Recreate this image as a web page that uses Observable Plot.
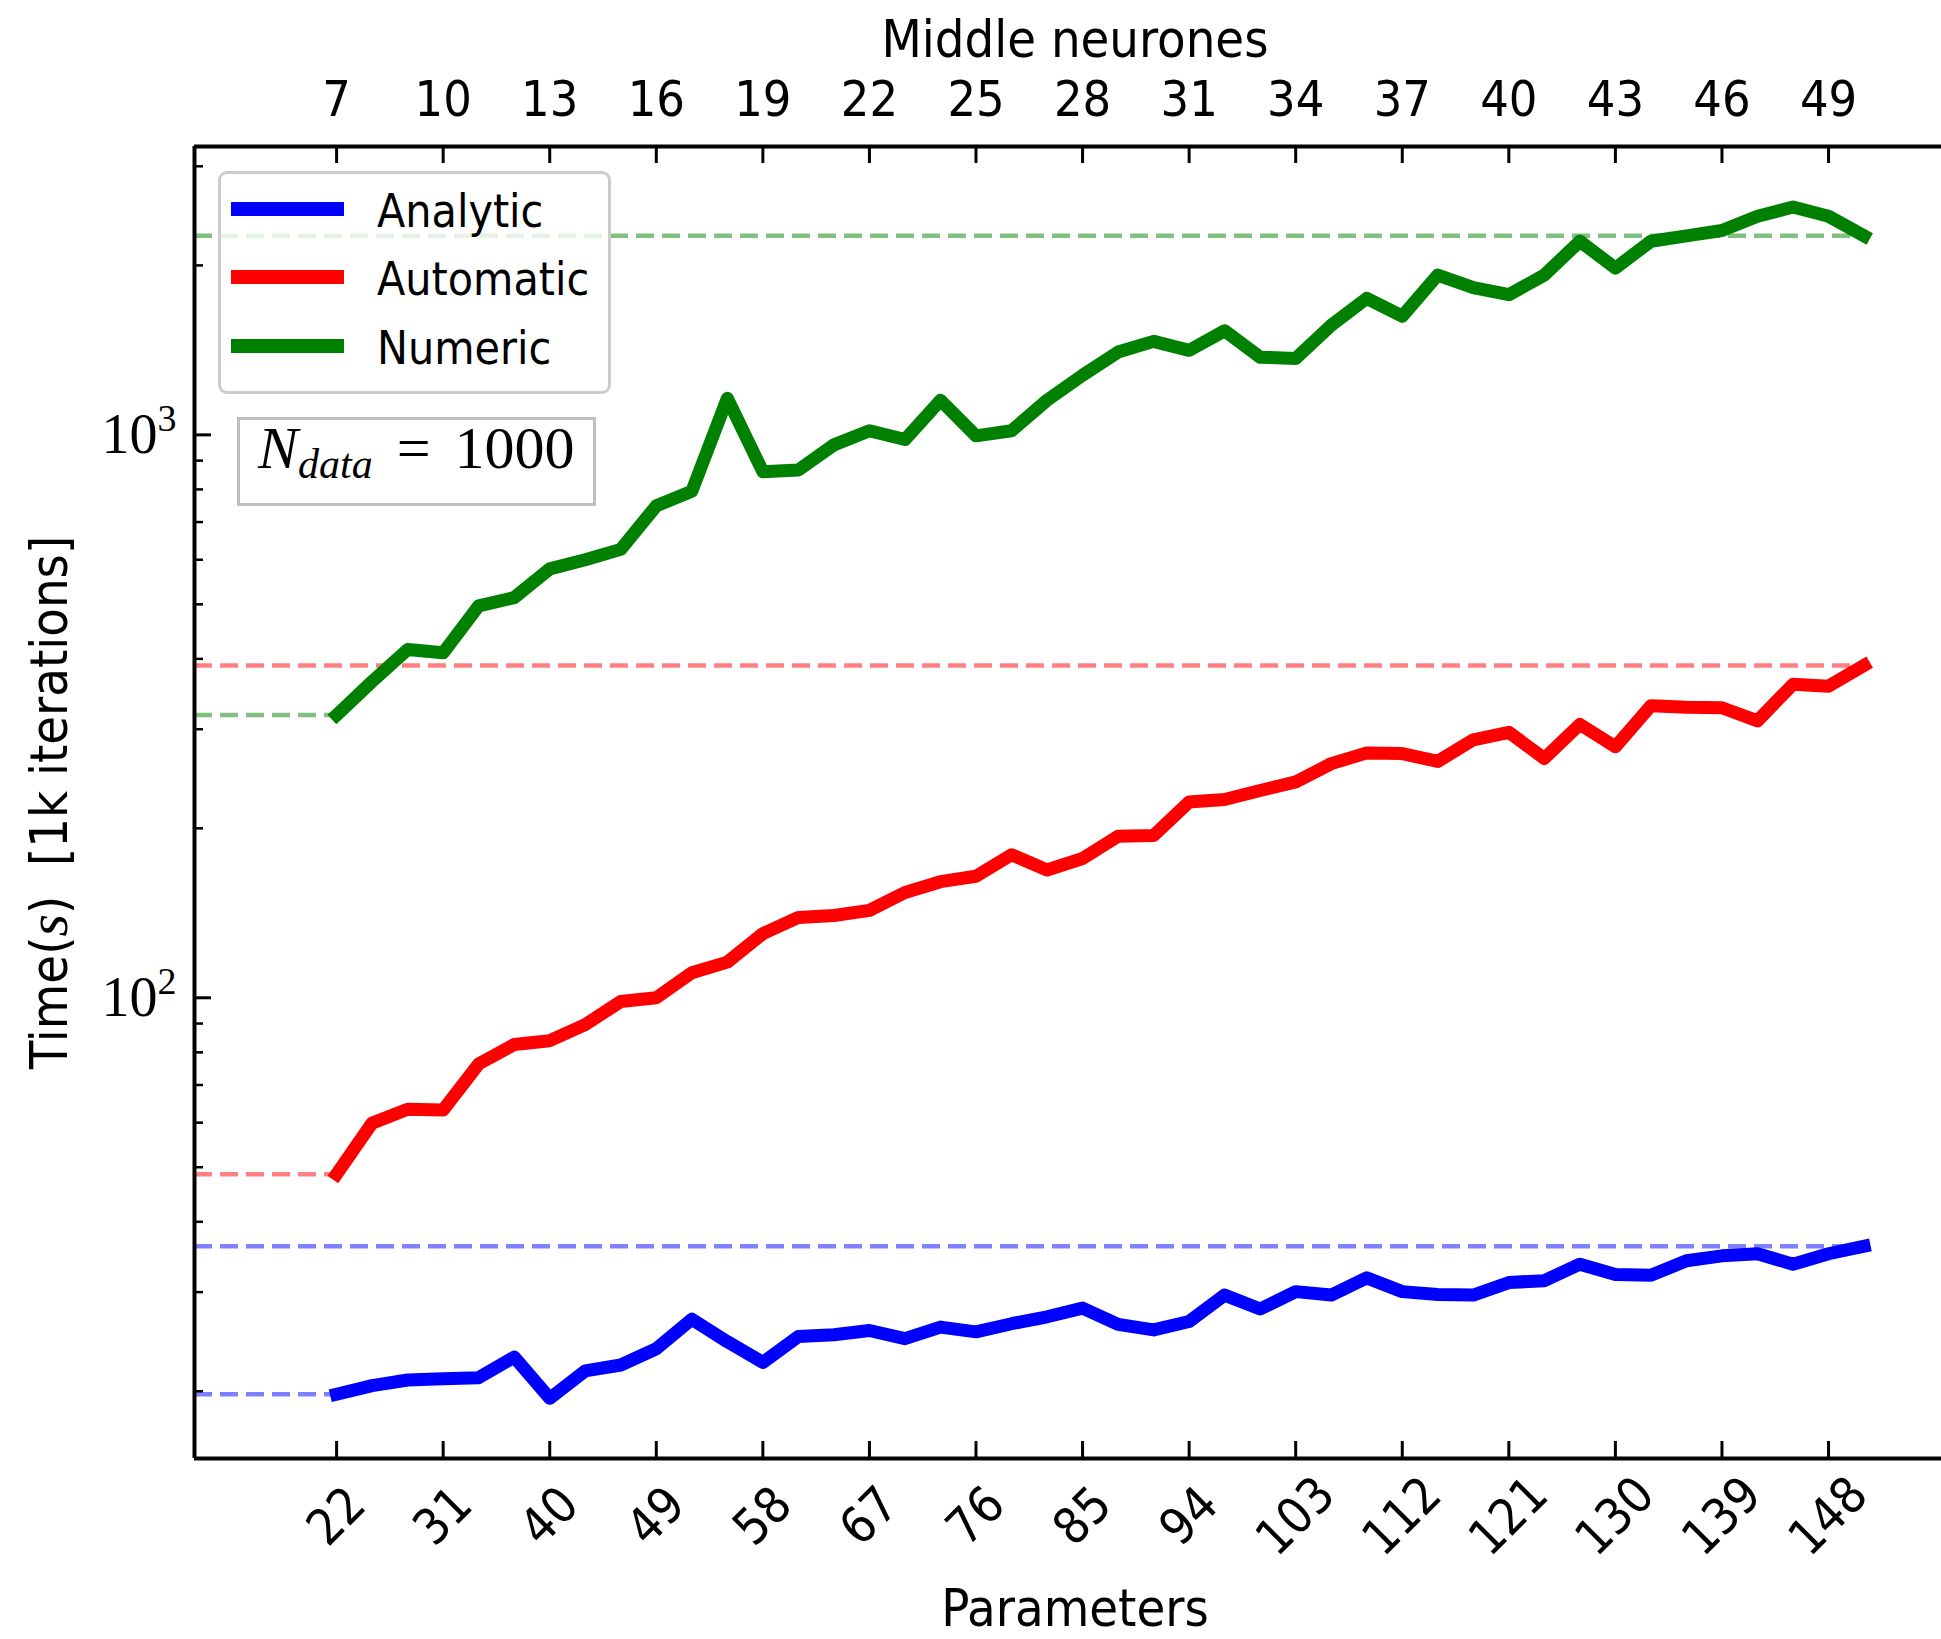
<!DOCTYPE html>
<html>
<head>
<meta charset="utf-8">
<script src="https://cdn.jsdelivr.net/npm/d3@7"></script>
<script src="https://cdn.jsdelivr.net/npm/@observablehq/plot@0.6"></script>
<style>
  html, body { margin: 0; padding: 0; background: white; }
  #wrap { position: relative; width: 1941px; height: 1639px; overflow: hidden; }
  .box { position: absolute; box-sizing: border-box; }
</style>
</head>
<body>
<div id="wrap"></div>
<script>
// ---------------- data ----------------
const neurons = [7,8,9,10,11,12,13,14,15,16,17,18,19,20,21,22,23,24,25,26,27,28,29,30,31,32,33,34,35,36,37,38,39,40,41,42,43,44,45,46,47,48,49,50];
const analytic = [19.76,20.47,20.94,21.05,21.14,23.0,19.43,21.74,22.27,23.8,26.85,24.5,22.5,25.03,25.2,25.64,24.8,26.0,25.5,26.36,27.12,28.1,26.3,25.7,26.6,29.64,28.0,30.06,29.64,31.8,30.06,29.7,29.64,31.2,31.44,33.63,32.24,32.15,34.1,34.8,35.1,33.63,35.1,36.2];
const automatic = [48.6,59.9,63.4,63.2,76.3,82.6,83.9,89.6,98.5,100,110.8,115.7,130,138.9,140,143,153.8,160.8,164.4,179.5,168.7,176.8,193.6,194.2,222.8,225,233.5,241.8,260.6,272.3,271.5,263,287.3,296.2,266.2,306,279.1,330.1,328.2,327.5,310.4,360.5,357.8,389.4];
const numeric = [317.8,364.7,415.6,410,497,514,578,600,626,748,794,1161,860,866,960,1017,981,1152,996,1017,1152,1276,1403,1466,1413,1531,1374,1367,1566,1748,1625,1923,1826,1774,1923,2208,1978,2208,2257,2307,2445,2539,2445,2257];
const seriesNames = ["Analytic", "Automatic", "Numeric"];
const seriesColors = ["#0000ff", "#ff0000", "#008000"];
const dashColors = ["#8080ff", "#ff8080", "#80bf80"];
const topTicks = [7,10,13,16,19,22,25,28,31,34,37,40,43,46,49];
const bottomTicks = [22,31,40,49,58,67,76,85,94,103,112,121,130,139,148];
const yMajor = [100, 1000];
const yMajorExp = ["2", "3"];
const yMinor = [20,30,40,50,60,70,80,90,200,300,400,500,600,700,800,900,2000,3000];
const xDomain = [3, 52.18];
const yDomain = [15.19, 3253];
const nData = 1000;

// ---------------- fonts ----------------
function hasFont(f) {
  const c = document.createElement("canvas").getContext("2d");
  const s = "AnalyticMiddle neurones 0123456789";
  c.font = "40px monospace";
  const a = c.measureText(s).width;
  c.font = `40px "${f}", monospace`;
  const b = c.measureText(s).width;
  return Math.abs(a - b) > 0.5;
}
let SANS, k;
if (hasFont("DejaVu Sans Condensed")) { SANS = '"DejaVu Sans Condensed", "DejaVu Sans", sans-serif'; k = 1; }
else { SANS = '"DejaVu Sans", sans-serif'; k = 0.9; }
const SERIF = '"Liberation Serif", "DejaVu Serif", serif';

// ---------------- layout ----------------
const W = 1941, H = 1639, mL = 194, mT = 146, mB = 181, mR = 0;
const plotW = W - mL - mR, plotH = H - mT - mB;

const series = [analytic, automatic, numeric];
const table = neurons.map((n, i) => ({n, analytic: analytic[i], automatic: automatic[i], numeric: numeric[i]}));
const keys = ["analytic", "automatic", "numeric"];

const dashMarks = [];
series.forEach((s, j) => {
  dashMarks.push(Plot.ruleY([s[0]], {y: d => d, x1: xDomain[0], x2: neurons[0], stroke: dashColors[j], strokeWidth: 4.5, strokeDasharray: "18,8"}));
  dashMarks.push(Plot.ruleY([s[s.length - 1]], {y: d => d, x1: xDomain[0], x2: neurons[neurons.length - 1], stroke: dashColors[j], strokeWidth: 4.5, strokeDasharray: "18,8"}));
});

const lineMarks = keys.map((key, j) => Plot.line(table, {
  x: "n", y: key, stroke: seriesColors[j], strokeWidth: 13,
  strokeLinejoin: "round", strokeLinecap: "square"
}));

const chart = Plot.plot({
  width: W, height: H,
  marginLeft: mL, marginTop: mT, marginBottom: mB, marginRight: mR,
  x: {domain: xDomain, axis: null},
  y: {type: "log", domain: yDomain, axis: null},
  style: {background: "white", overflow: "visible", fontFamily: SANS, color: "black"},
  marks: [
    ...dashMarks,
    ...lineMarks,
    // spines
    Plot.ruleX([xDomain[0]], {x: d => d, stroke: "black", strokeWidth: 4}),
    Plot.ruleY([yDomain[0]], {y: d => d, stroke: "black", strokeWidth: 4}),
    Plot.ruleY([yDomain[1]], {y: d => d, stroke: "black", strokeWidth: 4}),
    // inward ticks
    Plot.tickX(topTicks, {x: d => d, insetBottom: plotH - 17, stroke: "black", strokeWidth: 3}),
    Plot.tickX(bottomTicks, {x: p => (p - 1) / 3, insetTop: plotH - 17, stroke: "black", strokeWidth: 3}),
    Plot.tickY(yMajor, {y: d => d, insetRight: plotW - 17, stroke: "black", strokeWidth: 3}),
    Plot.tickY(yMinor, {y: d => d, insetRight: plotW - 9, stroke: "black", strokeWidth: 2.5}),
    // tick labels
    Plot.text(topTicks, {x: d => d, text: d => String(d), frameAnchor: "top", dy: -47, textAnchor: "middle", lineAnchor: "middle", fontSize: 50 * k, fill: "black"}),
    Plot.text(bottomTicks, {x: p => (p - 1) / 3, text: d => String(d), frameAnchor: "bottom", dy: 58, rotate: -45, textAnchor: "middle", lineAnchor: "middle", fontSize: 50 * k, fill: "black"}),
    Plot.text(yMajor, {y: d => d, text: (d, i) => "10" + "^" + yMajorExp[i], frameAnchor: "left", dx: -18, textAnchor: "end", lineAnchor: "middle", fontSize: 56, fontFamily: SERIF, fill: "black"}),
    // axis labels
    Plot.text(["Middle neurones"], {text: d => d, frameAnchor: "top", dy: -106, dx: 7, textAnchor: "middle", lineAnchor: "middle", fontSize: 52 * k, fill: "black"}),
    Plot.text(["Parameters"], {text: d => d, frameAnchor: "bottom", dy: 151, dx: 7, textAnchor: "middle", lineAnchor: "middle", fontSize: 52 * k, fill: "black"}),
    Plot.text(["Time(s)  [1k iterations]"], {text: d => d, frameAnchor: "left", dx: -144, rotate: -90, textAnchor: "middle", lineAnchor: "middle", fontSize: 52 * k, fill: "black"})
  ]
});

// rich text: italic math "s" in the y label, superscript exponents on y ticks
d3.select(chart).selectAll("text").each(function() {
  const t = d3.select(this);
  const s = this.textContent;
  if (s.indexOf("Time(") === 0) {
    t.text(null);
    t.append("tspan").text("Time(");
    t.append("tspan").attr("font-family", SERIF).attr("font-style", "italic").attr("font-size", 58 * k).text("s");
    t.append("tspan").text(")  [1k iterations]");
  } else if (/^10\^\d$/.test(s)) {
    const e = s.slice(3);
    t.text(null);
    t.append("tspan").text("10");
    t.append("tspan").attr("font-size", 38).attr("dy", -22).text(e);
  }
});

const wrap = document.getElementById("wrap");
wrap.appendChild(chart);

// ---------------- legend ----------------
const leg = document.createElement("div");
leg.className = "box";
Object.assign(leg.style, {left: "218px", top: "171px", width: "393px", height: "223px",
  border: "3px solid #cccccc", borderRadius: "9px", background: "rgba(255,255,255,0.8)"});
seriesNames.forEach((name, j) => {
  const cy = 35 + j * 68.3;
  const ln = document.createElement("div");
  Object.assign(ln.style, {position: "absolute", left: "10px", top: (cy - 7) + "px", width: "113px", height: "14px", background: seriesColors[j]});
  leg.appendChild(ln);
  const tx = document.createElement("div");
  Object.assign(tx.style, {position: "absolute", left: "156px", top: (cy - 28) + "px", height: "60px", lineHeight: "60px",
    fontFamily: SANS, fontSize: (46 * k) + "px", color: "black", whiteSpace: "nowrap"});
  tx.textContent = name;
  leg.appendChild(tx);
});
wrap.appendChild(leg);

// N_data annotation
const nb = document.createElement("div");
nb.className = "box";
Object.assign(nb.style, {left: "237px", top: "417px", width: "359px", height: "89px",
  border: "3px solid #bfbfbf", background: "rgba(255,255,255,0.8)"});
const nt = document.createElement("div");
Object.assign(nt.style, {position: "absolute", left: "18px", top: "-2px", height: "60px", lineHeight: "60px",
  fontFamily: SERIF, fontSize: "60px", color: "black", whiteSpace: "nowrap"});
nt.innerHTML = '<span style="font-style:italic">N</span><span style="font-style:italic;font-size:42px;position:relative;top:10px">data</span>&#8201;&#8201;=&#8201;&#8201;' + nData;
nb.appendChild(nt);
wrap.appendChild(nb);
</script>
</body>
</html>
